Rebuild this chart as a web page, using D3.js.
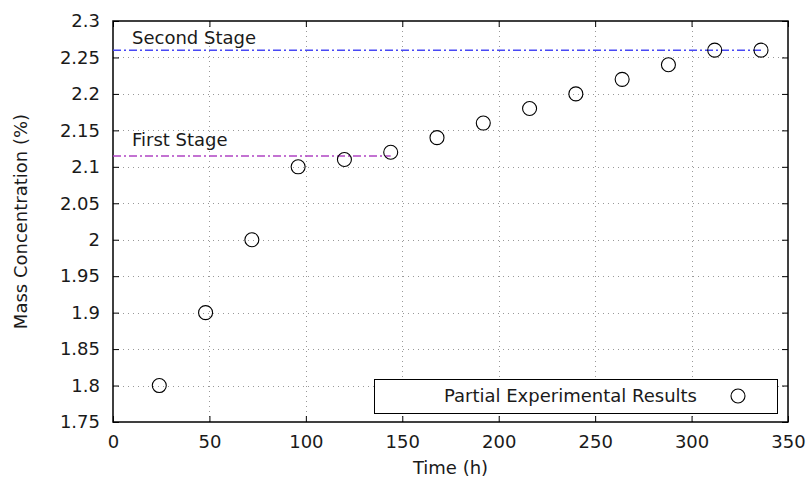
<!DOCTYPE html>
<html lang="en">
<head>
<meta charset="UTF-8">
<title>Mass Concentration</title>
<script src="https://d3js.org/d3.v7.min.js"></script>
<style>
  body { margin: 0; background: #fff; }
  text { font-family: "DejaVu Sans", sans-serif; fill: #1a1a1a; }
</style>
</head>
<body>
<script>
// data
var timeH = [24, 48, 72, 96, 120, 144, 168, 192, 216, 240, 264, 288, 312, 336];
var concentration = [1.8, 1.9, 2.0, 2.1, 2.11, 2.12, 2.14, 2.16, 2.18, 2.2, 2.22, 2.24, 2.26, 2.26];
var xTicks = [0, 50, 100, 150, 200, 250, 300, 350];
var yTicks = [1.75, 1.8, 1.85, 1.9, 1.95, 2, 2.05, 2.1, 2.15, 2.2, 2.25, 2.3];
var stageNames = ["First Stage", "Second Stage"];
var stageLevels = [2.115, 2.26];
var stageEnds = [144, 336];
var stageColors = ["#b044c4", "#4848f4"];

var W = 808, H = 481;
var m = {left: 113, right: 20, top: 21, bottom: 59};
var FS = 18;

var svg = d3.select("body").append("svg")
    .attr("width", W)
    .attr("height", H);

var x = d3.scaleLinear().domain([0, 350]).range([m.left, W - m.right]);
var y = d3.scaleLinear().domain([1.75, 2.3]).range([H - m.bottom, m.top]);

// grid
var grid = svg.append("g").attr("stroke", "#999").attr("stroke-dasharray", "1,4").attr("stroke-width", 1);
grid.selectAll(".gx").data(xTicks.slice(1, -1)).enter().append("line")
    .attr("x1", d => Math.round(x(d)) + 0.5).attr("x2", d => Math.round(x(d)) + 0.5)
    .attr("y1", y.range()[0]).attr("y2", y.range()[1]);
grid.selectAll(".gy").data(yTicks.slice(1, -1)).enter().append("line")
    .attr("y1", d => Math.round(y(d)) + 0.5).attr("y2", d => Math.round(y(d)) + 0.5)
    .attr("x1", x.range()[0]).attr("x2", x.range()[1]);

// axes, ticks pointing inside, mirrored
var fmt = d3.format("");
svg.append("g").attr("transform", "translate(0," + y.range()[0] + ")")
    .call(d3.axisBottom(x).tickValues(xTicks).tickSizeInner(-6).tickSizeOuter(0).tickPadding(13).tickFormat(fmt));
svg.append("g").attr("transform", "translate(0," + y.range()[1] + ")")
    .call(d3.axisTop(x).tickValues(xTicks).tickSizeInner(-6).tickSizeOuter(0).tickFormat(""));
svg.append("g").attr("transform", "translate(" + x.range()[0] + ",0)")
    .call(d3.axisLeft(y).tickValues(yTicks).tickSizeInner(-6).tickSizeOuter(0).tickPadding(13).tickFormat(fmt));
svg.append("g").attr("transform", "translate(" + x.range()[1] + ",0)")
    .call(d3.axisRight(y).tickValues(yTicks).tickSizeInner(-6).tickSizeOuter(0).tickFormat(""));

svg.selectAll(".domain").remove();
svg.selectAll(".tick line").attr("stroke", "#000");
svg.selectAll(".tick text").attr("font-size", FS).attr("font-family", "DejaVu Sans").attr("fill", "#1a1a1a");

// frame
svg.append("rect")
    .attr("x", x.range()[0]).attr("y", y.range()[1])
    .attr("width", x.range()[1] - x.range()[0])
    .attr("height", y.range()[0] - y.range()[1])
    .attr("fill", "none").attr("stroke", "#000").attr("stroke-width", 1.5);

// stage lines
stageLevels.forEach(function (v, i) {
  svg.append("line")
      .attr("x1", x(0)).attr("x2", x(stageEnds[i]))
      .attr("y1", y(v)).attr("y2", y(v))
      .attr("stroke", stageColors[i]).attr("stroke-width", 1.5)
      .attr("stroke-dasharray", "8,3,2,3");
  svg.append("text")
      .attr("x", x(0) + 19).attr("y", y(v) - (i === 0 ? 9.5 : 6.5))
      .attr("font-size", FS)
      .text(stageNames[i]);
});

// points
svg.append("g").selectAll("circle").data(timeH).enter().append("circle")
    .attr("cx", d => x(d))
    .attr("cy", (d, i) => y(concentration[i]))
    .attr("r", 7)
    .attr("fill", "none").attr("stroke", "#000").attr("stroke-width", 1.1);

// legend
var lg = svg.append("g");
lg.append("rect").attr("x", 374.5).attr("y", 379.5).attr("width", 403).attr("height", 34)
    .attr("fill", "#fff").attr("stroke", "#000").attr("stroke-width", 1);
lg.append("text").attr("x", 697).attr("y", 402).attr("text-anchor", "end").attr("font-size", FS)
    .text("Partial Experimental Results");
lg.append("circle").attr("cx", 738).attr("cy", 396).attr("r", 7)
    .attr("fill", "none").attr("stroke", "#000").attr("stroke-width", 1.1);

// axis titles
svg.append("text").attr("x", (x.range()[0] + x.range()[1]) / 2).attr("y", 474)
    .attr("text-anchor", "middle").attr("font-size", FS).text("Time (h)");
svg.append("text").attr("transform", "translate(27," + (y.range()[0] + y.range()[1]) / 2 + ") rotate(-90)")
    .attr("text-anchor", "middle").attr("font-size", FS).text("Mass Concentration (%)");
</script>
</body>
</html>
